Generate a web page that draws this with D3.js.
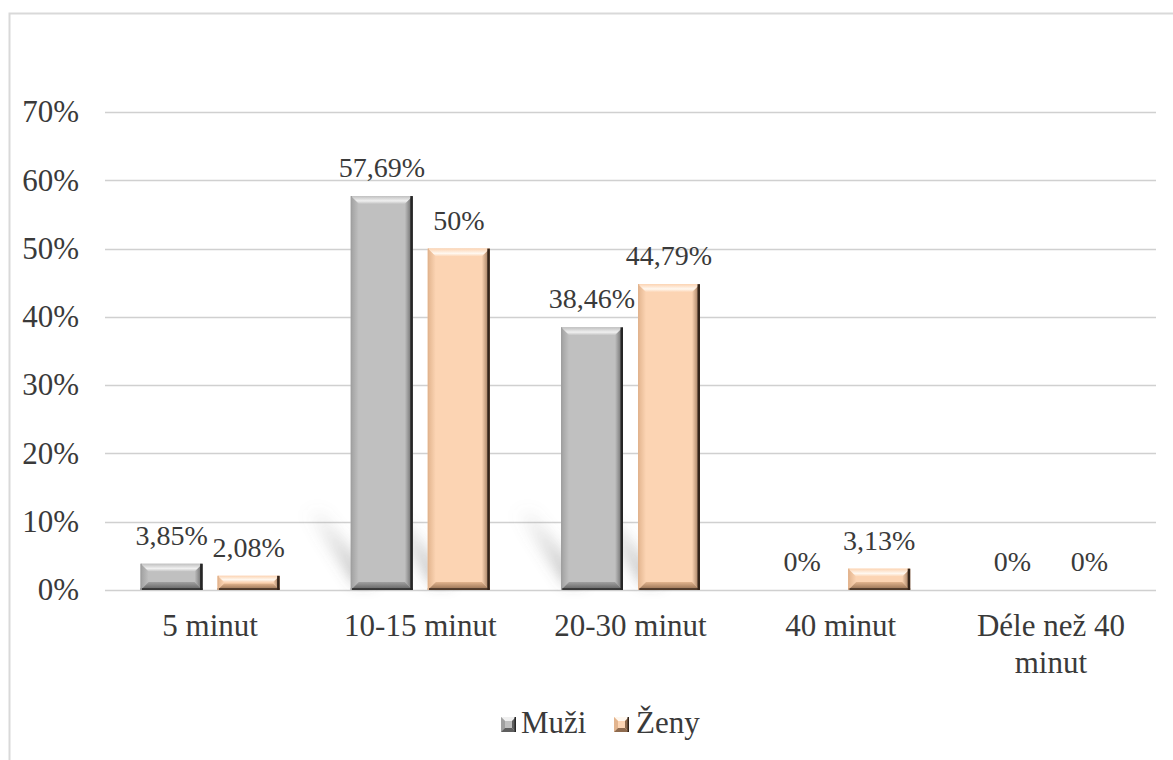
<!DOCTYPE html>
<html>
<head>
<meta charset="utf-8">
<script src="https://cdn.jsdelivr.net/npm/d3@7"></script>
<style>
  html, body { margin: 0; padding: 0; background: #fff; }
  svg { display: block; }
</style>
</head>
<body>
<svg id="chart" width="1173" height="760"></svg>
<script>
const categories = ["5 minut", "10-15 minut", "20-30 minut", "40 minut", "Déle než 40 minut"];
const categoryLines = [["5 minut"], ["10-15 minut"], ["20-30 minut"], ["40 minut"], ["Déle než 40", "minut"]];
const seriesNames = ["Muži", "Ženy"];
const muzi = [0.0385, 0.5769, 0.3846, 0, 0];
const zeny = [0.0208, 0.50, 0.4479, 0.0313, 0];
const labelsMuzi = ["3,85%", "57,69%", "38,46%", "0%", "0%"];
const labelsZeny = ["2,08%", "50%", "44,79%", "3,13%", "0%"];
const yTicks = [0, 0.1, 0.2, 0.3, 0.4, 0.5, 0.6, 0.7];
const yTickLabels = ["0%", "10%", "20%", "30%", "40%", "50%", "60%", "70%"];

const FONT = "'Liberation Serif', Tinos, 'Times New Roman', 'DejaVu Serif', serif";
const TEXT_COLOR = "#3a3a3a";

const palette = {
  "Muži": { face: "#c0c0c0", light: "#f0f0f0", mid: "#a0a0a0", dark: "#5e5e5e", edge: "#262626" },
  "Ženy": { face: "#fcd4b3", light: "#fff8f0", mid: "#e2b48e", dark: "#8e6a4e", edge: "#33241a" }
};

const svg = d3.select("#chart").attr("font-family", FONT);
const defs = svg.append("defs");
defs.append("filter").attr("id", "blur").attr("x", "-50%").attr("y", "-50%").attr("width", "200%").attr("height", "200%")
  .append("feGaussianBlur").attr("stdDeviation", 7);

seriesNames.forEach((s, i) => {
  const p = palette[s];
  const gT = defs.append("linearGradient").attr("id", "gt" + i).attr("x1", 0).attr("y1", 0).attr("x2", 0).attr("y2", 1);
  gT.append("stop").attr("offset", 0).attr("stop-color", p.face);
  gT.append("stop").attr("offset", 0.6).attr("stop-color", p.light);
  gT.append("stop").attr("offset", 1).attr("stop-color", p.face);
  const gR = defs.append("linearGradient").attr("id", "gr" + i).attr("x1", 0).attr("y1", 0).attr("x2", 1).attr("y2", 0);
  gR.append("stop").attr("offset", 0).attr("stop-color", p.face);
  gR.append("stop").attr("offset", 1).attr("stop-color", p.dark);
  const gB = defs.append("linearGradient").attr("id", "gb" + i).attr("x1", 0).attr("y1", 0).attr("x2", 0).attr("y2", 1);
  gB.append("stop").attr("offset", 0).attr("stop-color", p.mid);
  gB.append("stop").attr("offset", 1).attr("stop-color", p.dark);
  const gL = defs.append("linearGradient").attr("id", "gl" + i).attr("x1", 0).attr("y1", 0).attr("x2", 1).attr("y2", 0);
  gL.append("stop").attr("offset", 0).attr("stop-color", p.mid);
  gL.append("stop").attr("offset", 1).attr("stop-color", p.face);
});
const gs = defs.append("linearGradient").attr("id", "shadowGrad").attr("x1", 1).attr("y1", 1).attr("x2", 0).attr("y2", 0);
gs.append("stop").attr("offset", 0).attr("stop-color", "#555").attr("stop-opacity", 0.55);
gs.append("stop").attr("offset", 1).attr("stop-color", "#888").attr("stop-opacity", 0);

// outer border
svg.append("rect").attr("x", 9.5).attr("y", 13.5).attr("width", 1180).attr("height", 760)
  .attr("fill", "none").attr("stroke", "#d9d9d9").attr("stroke-width", 2);

const x0 = d3.scaleBand().domain(categories).range([105, 1156]).paddingInner(0).paddingOuter(0);
const x1 = d3.scaleBand().domain(seriesNames).range([0, x0.bandwidth()]).paddingInner(0.195).paddingOuter(0.4625);
const y = d3.scaleLinear().domain([0, 0.7]).range([590, 112]);

// gridlines
svg.append("g").selectAll("line").data(yTicks).join("line")
  .attr("x1", 105).attr("x2", 1156)
  .attr("y1", d => Math.round(y(d)) + 0.5).attr("y2", d => Math.round(y(d)) + 0.5)
  .attr("stroke", "#d0d0d0").attr("stroke-width", 1.3);

// y axis labels
svg.append("g").selectAll("text").data(yTicks).join("text")
  .attr("x", 79).attr("y", d => y(d)).attr("dy", "0.33em")
  .attr("text-anchor", "end").attr("font-size", 31).attr("fill", TEXT_COLOR)
  .text((d, i) => yTickLabels[i]);

const bars = [];
categories.forEach((c, ci) => {
  bars.push({ cat: c, s: "Muži", si: 0, v: muzi[ci], label: labelsMuzi[ci] });
  bars.push({ cat: c, s: "Ženy", si: 1, v: zeny[ci], label: labelsZeny[ci] });
});

// soft cast shadows
const shadowG = svg.append("g").attr("filter", "url(#blur)");
bars.filter(d => d.v > 0.1).forEach(d => {
  const bx = x0(d.cat) + x1(d.s);
  const base = y(0);
  const h = Math.min(y(0) - y(d.v), 80);
  shadowG.append("polygon")
    .attr("points", [[bx + 4, base - 6], [bx + 24, base - 6], [bx - 28, base - h], [bx - 48, base - h]].map(p => p.join(",")).join(" "))
    .attr("fill", "url(#shadowGrad)").attr("opacity", 0.8);
});

// bevelled bars
const bevel = 8;
const barG = svg.append("g");
bars.filter(d => d.v > 0).forEach(d => {
  const p = palette[d.s];
  const bx = x0(d.cat) + x1(d.s), bw = x1.bandwidth();
  const top = y(d.v), bot = y(0);
  const h = bot - top;
  const bv = Math.min(bevel, h / 2.2);
  const g = barG.append("g");
  g.append("rect").attr("x", bx).attr("y", top).attr("width", bw).attr("height", h).attr("fill", p.face);
  const poly = (pts, fill) => g.append("polygon").attr("points", pts.map(q => q.join(",")).join(" ")).attr("fill", fill);
  poly([[bx, top], [bx + bw, top], [bx + bw - bv, top + bv], [bx + bv, top + bv]], `url(#gt${d.si})`);
  poly([[bx, top], [bx + bv, top + bv], [bx + bv, bot - bv], [bx, bot]], `url(#gl${d.si})`);
  poly([[bx + bw, top], [bx + bw, bot], [bx + bw - bv, bot - bv], [bx + bw - bv, top + bv]], `url(#gr${d.si})`);
  poly([[bx, bot], [bx + bv, bot - bv], [bx + bw - bv, bot - bv], [bx + bw, bot]], `url(#gb${d.si})`);
  g.append("rect").attr("x", bx + bw - 2.5).attr("y", top).attr("width", 2.5).attr("height", h).attr("fill", p.edge);
  g.append("rect").attr("x", bx).attr("y", bot - 2).attr("width", bw).attr("height", 2).attr("fill", p.edge).attr("opacity", 0.7);
  g.append("rect").attr("x", bx).attr("y", top).attr("width", 1.2).attr("height", h).attr("fill", p.mid);
});

// data labels
svg.append("g").selectAll("text").data(bars).join("text")
  .attr("x", d => x0(d.cat) + x1(d.s) + x1.bandwidth() / 2)
  .attr("y", d => y(d.v) - 19)
  .attr("text-anchor", "middle").attr("font-size", 28).attr("fill", TEXT_COLOR)
  .text(d => d.label);

// category labels
const catG = svg.append("g");
categories.forEach((c, ci) => {
  const cx = x0(c) + x0.bandwidth() / 2;
  const t = catG.append("text").attr("x", cx).attr("y", 636)
    .attr("text-anchor", "middle").attr("font-size", 31).attr("fill", TEXT_COLOR);
  categoryLines[ci].forEach((line, li) => {
    t.append("tspan").attr("x", cx).attr("dy", li === 0 ? 0 : 37).text(line);
  });
});

// legend
const legendItems = [{ s: "Muži", si: 0, mx: 501, tx: 521 }, { s: "Ženy", si: 1, mx: 614, tx: 636 }];
legendItems.forEach(it => {
  const p = palette[it.s];
  const g = svg.append("g");
  const sx = it.mx, sy = 717, sz = 15, bv = 4;
  g.append("rect").attr("x", sx).attr("y", sy).attr("width", sz).attr("height", sz).attr("fill", p.face);
  const poly = (pts, fill) => g.append("polygon").attr("points", pts.map(q => q.join(",")).join(" ")).attr("fill", fill);
  poly([[sx, sy], [sx + sz, sy], [sx + sz - bv, sy + bv], [sx + bv, sy + bv]], p.light);
  poly([[sx, sy], [sx + bv, sy + bv], [sx + bv, sy + sz - bv], [sx, sy + sz]], p.mid);
  poly([[sx + sz, sy], [sx + sz, sy + sz], [sx + sz - bv, sy + sz - bv], [sx + sz - bv, sy + bv]], p.dark);
  poly([[sx, sy + sz], [sx + bv, sy + sz - bv], [sx + sz - bv, sy + sz - bv], [sx + sz, sy + sz]], p.dark);
  g.append("rect").attr("x", sx + sz - 1.5).attr("y", sy).attr("width", 1.5).attr("height", sz).attr("fill", p.edge);
  g.append("text").attr("x", it.tx).attr("y", 733).attr("font-size", 31).attr("fill", TEXT_COLOR).text(it.s);
});
</script>
</body>
</html>
